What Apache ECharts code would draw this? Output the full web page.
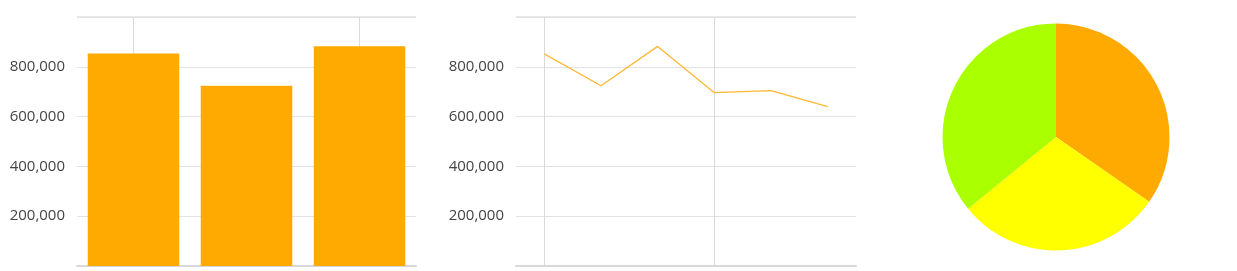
<!DOCTYPE html>
<html>
<head>
<meta charset="utf-8">
<script src="https://cdn.jsdelivr.net/npm/echarts@6/dist/echarts.min.js"></script>
<style>
html,body{margin:0;padding:0;background:#fff;}
#c{width:1237px;height:271px;}
</style>
</head>
<body>
<div id="c"></div>
<script>
const barCategories = ['A', 'B', 'C'];
const barValues = [853000, 724000, 883000];
const lineCategories = ['1', '2', '3', '4', '5', '6'];
const lineValues = [852000, 724000, 882000, 696000, 704000, 640000];
const pieNames = ['A', 'B', 'C'];
const pieValues = [853000, 724000, 883000];
const pieColors = ['#FFAA00', '#FFFF00', '#AAFF00'];
const yTicks = [0, 200000, 400000, 600000, 800000, 1000000];

const chart = echarts.init(document.getElementById('c'), null, {renderer: 'canvas'});
const labelStyle = {
  show: true, color: '#444', fontSize: 15, fontFamily: '"Open Sans", sans-serif', margin: 12,
  showMinLabel: false, showMaxLabel: false,
  formatter: v => Number(v).toLocaleString('en-US')
};
function yAxis(gi) {
  return {
    type: 'value', gridIndex: gi, min: yTicks[0], max: yTicks[yTicks.length - 1], interval: 200000,
    axisLine: {show: false}, axisTick: {show: false},
    axisLabel: labelStyle,
    splitLine: {show: true, lineStyle: {color: '#e2e2e2', width: 1}}
  };
}
function xAxis(gi, cats, skip) {
  return {
    type: 'category', gridIndex: gi, data: cats, boundaryGap: true,
    axisLine: {show: true, lineStyle: {color: '#d8d8d8', width: 2}},
    axisTick: {show: false}, axisLabel: {show: false},
    splitLine: {show: true, alignWithLabel: true, interval: skip, lineStyle: {color: '#dadada', width: 1}}
  };
}
chart.setOption({
  animation: false,
  grid: [
    {left: 77, top: 17, width: 339, bottom: 5},
    {left: 516, top: 17, width: 340, bottom: 5}
  ],
  xAxis: [xAxis(0, barCategories, 1), xAxis(1, lineCategories, 2)],
  yAxis: [yAxis(0), yAxis(1)],
  graphic: [
    {type: 'line', shape: {x1: 77, y1: 17, x2: 416, y2: 17}, style: {stroke: '#e8e8e8', lineWidth: 2}, silent: true},
    {type: 'line', shape: {x1: 516, y1: 17, x2: 856, y2: 17}, style: {stroke: '#e8e8e8', lineWidth: 2}, silent: true}
  ],
  series: [
    {type: 'bar', xAxisIndex: 0, yAxisIndex: 0, data: barValues, barCategoryGap: '19%',
     itemStyle: {color: '#FFAA00'}},
    {type: 'line', xAxisIndex: 1, yAxisIndex: 1, data: lineValues, symbol: 'none',
     lineStyle: {color: '#FFB833', width: 1.3}},
    {type: 'pie', center: [1056, 137], radius: 113.5, startAngle: 90, clockwise: true,
     label: {show: false}, labelLine: {show: false},
     data: pieNames.map((n, i) => ({name: n, value: pieValues[i], itemStyle: {color: pieColors[i]}}))}
  ]
});
</script>
</body>
</html>
